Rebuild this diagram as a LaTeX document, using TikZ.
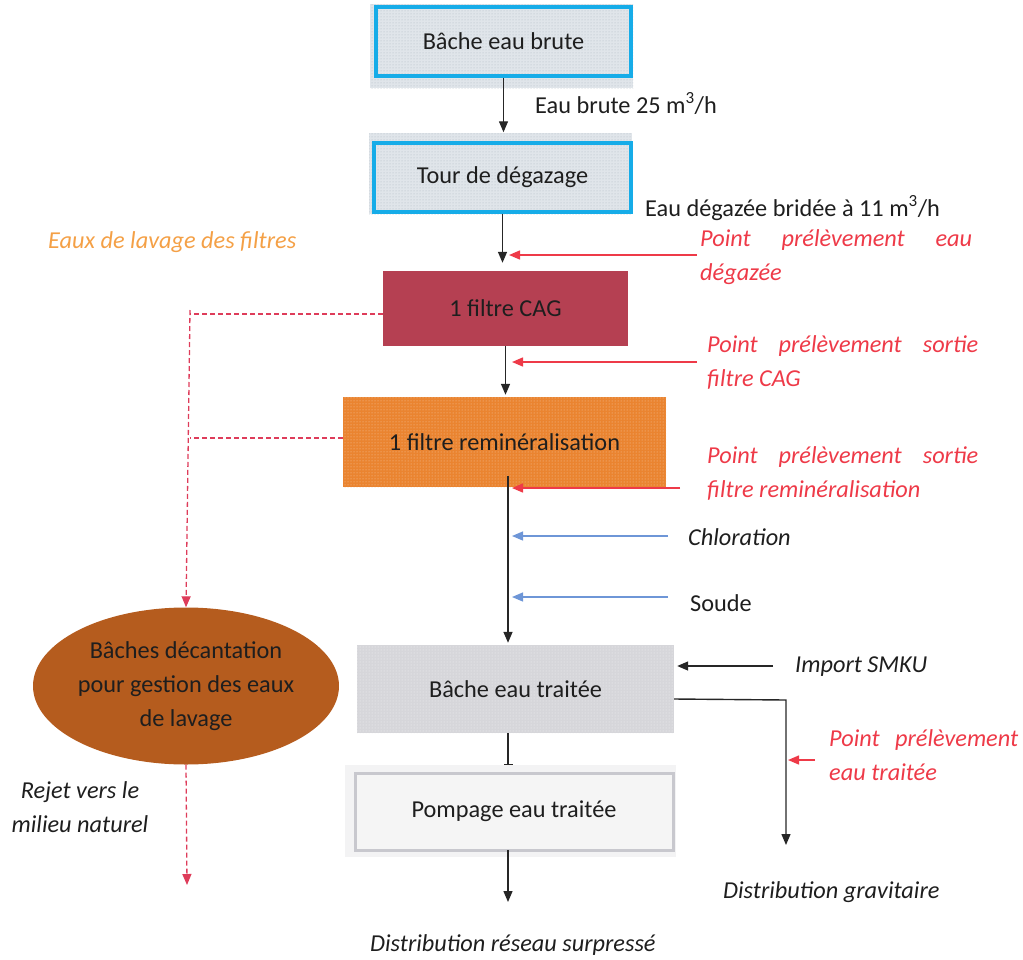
\documentclass[tikz,border=0pt]{standalone}
\usepackage{fontspec}
\setmainfont{Carlito}
\usetikzlibrary{arrows.meta,patterns,shapes.geometric,calc}
\definecolor{txt}{RGB}{30,30,30}
\definecolor{bblue}{RGB}{22,172,232}
\definecolor{bfill}{RGB}{224,229,234}
\definecolor{bdots}{RGB}{175,185,195}
\definecolor{cagc}{RGB}{181,64,82}
\definecolor{reminc}{RGB}{234,132,48}
\definecolor{ellbrown}{RGB}{181,92,30}
\definecolor{tgray}{RGB}{214,214,218}
\definecolor{pgray}{RGB}{200,200,206}
\definecolor{ptred}{RGB}{238,58,72}
\definecolor{dred}{RGB}{222,60,90}
\definecolor{lblue}{RGB}{110,150,215}
\definecolor{lorange}{RGB}{244,160,70}
\begin{document}
\begin{tikzpicture}[x=1pt,y=-1pt,
  every node/.style={font=\fontsize{24.3}{34}\selectfont, text=txt},
  arr/.style={-{Triangle[length=11pt,width=9pt]}, line width=1.4pt, draw=black!85},
  redarr/.style={-{Triangle[length=11pt,width=9pt]}, line width=1.4pt, draw=ptred},
  bluearr/.style={-{Triangle[length=11pt,width=9pt]}, line width=1.2pt, draw=lblue},
  wash/.style={dash pattern=on 5pt off 3pt, line width=1.3pt, draw=dred},
  washarr/.style={wash, -{Triangle[length=11pt,width=9pt]}},
  halo/.style={preaction={fill=bfill}, pattern=dots, pattern color=bdots},
  bluebox/.style={draw=bblue, line width=3.5pt, halo},
  lbl/.style={anchor=base west, inner sep=0pt},
  redlbl/.style={lbl, text=ptred, font=\fontsize{24.3}{34}\selectfont\itshape, align=left},
  itl/.style={lbl, font=\fontsize{24.3}{34}\selectfont\itshape}]
\useasboundingbox (0,0) rectangle (1023,959);

% halos
\fill[halo] (370,4) rectangle (633,88);
\fill[halo] (369,133) rectangle (632,214);
\fill[pgray!22] (345,765) rectangle (676,857);

% boxes
\node[bluebox, minimum width=255pt, minimum height=69pt] (b1) at (503.5,41.5) {Bâche eau brute};
\node[bluebox, minimum width=257pt, minimum height=69pt] (b2) at (502.5,177.5) {Tour de dégazage};
\node[fill=cagc, minimum width=245pt, minimum height=75pt] (cag) at (505.5,308.5) {1 filtre CAG};
\node[preaction={fill=reminc}, pattern=dots, pattern color=white!55!reminc, minimum width=323pt, minimum height=90pt] (remin) at (504.5,442) {1 filtre reminéralisation};
\node[preaction={fill=tgray}, pattern=dots, pattern color=white!70!tgray, minimum width=317pt, minimum height=88pt] (traitee) at (515.5,689) {Bâche eau traitée};
\node[draw=pgray, line width=3pt, fill=black!4, minimum width=318pt, minimum height=77pt] (pomp) at (514,811.5) {Pompage eau traitée};
\node[ellipse, fill=ellbrown, minimum width=272pt, minimum height=157pt, inner sep=0pt, align=center] (decant) at (186,686) {Bâches décantation\\pour gestion des eaux\\de lavage};

% labels (base anchor = baseline of last line)
\node[lbl] (l1) at (535,113) {Eau brute 25 m\textsuperscript{3}/h};
\node[lbl] (l2) at (645,216) {Eau dégazée bridée à 11 m\textsuperscript{3}/h};
\node[itl, text=lorange] (lwash) at (48,248) {Eaux de lavage des filtres};
\node[redlbl] (p1) at (700,280) {\makebox[272pt][s]{Point\hfill prélèvement\hfill eau}\\dégazée};
\node[redlbl] (p2) at (707,386) {\makebox[271pt][s]{Point\hfill prélèvement\hfill sortie}\\filtre CAG};
\node[redlbl] (p3) at (707,497) {\makebox[271pt][s]{Point\hfill prélèvement\hfill sortie}\\filtre reminéralisation};
\node[itl] (lchl) at (688,545) {Chloration};
\node[lbl] (lsoude) at (690,611) {Soude};
\node[itl] (limp) at (795,672) {Import SMKU};
\node[redlbl] (p4) at (829,780) {\makebox[189pt][s]{Point\hfill prélèvement}\\eau traitée};
\node[itl, align=center, anchor=base] (lrejet) at (80,832) {Rejet vers le\\milieu naturel};
\node[itl] (lgrav) at (723,898) {Distribution gravitaire};
\node[itl] (lsurp) at (370,951) {Distribution réseau surpressé};

% main flow
\draw[arr, shorten >=9pt] (b1.south) -- (b1.south |- b2.north);
\draw[arr, shorten >=8pt] (b2.south) -- (b2.south |- cag.north);
\draw[arr, shorten >=2pt] (cag.south) -- (cag.south |- remin.north);
\coordinate (rs) at (508,476);
\draw[arr, shorten >=2pt] (rs) -- (rs |- traitee.north);
\coordinate (ts) at (508,733);
\coordinate (pt) at (508,765);
\draw[line width=1.2pt, draw=black!85, -{Bar[width=9pt]}] (ts) -- (pt);
\coordinate (ps) at (508,850);
\coordinate (pe) at (508,902);
\draw[arr] (ps) -- (pe);

% gravity branch
\coordinate (g0) at ($(traitee.east)+(0,10)$);
\coordinate (g1) at (786,700);
\coordinate (g2) at (786,845);
\draw[arr] (g0) -- (g1) -- (g2);

% import
\coordinate (i0) at (773,666);
\coordinate (i1) at ($(traitee.east)+(3,-23)$);
\draw[arr] (i0) -- (i1);

% sampling points
\coordinate (r1a) at (697,255); \coordinate (r1b) at (509,255);
\draw[redarr] (r1a) -- (r1b);
\coordinate (r2a) at (697,362); \coordinate (r2b) at (512,362);
\draw[redarr] (r2a) -- (r2b);
\coordinate (r3a) at (680,488); \coordinate (r3b) at (512,488);
\draw[redarr] (r3a) -- (r3b);
\coordinate (r4a) at (815,760); \coordinate (r4b) at (788,760);
\draw[redarr] (r4a) -- (r4b);

% dosing
\coordinate (c1a) at (668,536); \coordinate (c1b) at (512,536);
\draw[bluearr] (c1a) -- (c1b);
\coordinate (c2a) at (668,597); \coordinate (c2b) at (512,597);
\draw[bluearr] (c2a) -- (c2b);

% wash water
\coordinate (w1) at (190,314);
\coordinate (w2) at (190,438);
\draw[wash] (cag.west |- w1) -- (w1);
\draw[wash] (remin.west |- w2) -- (w2);
\draw[washarr] (190,310) -- (decant.north);
\coordinate (wout) at (187,885);
\draw[washarr] (decant.south) -- (wout);
\end{tikzpicture}
\end{document}
